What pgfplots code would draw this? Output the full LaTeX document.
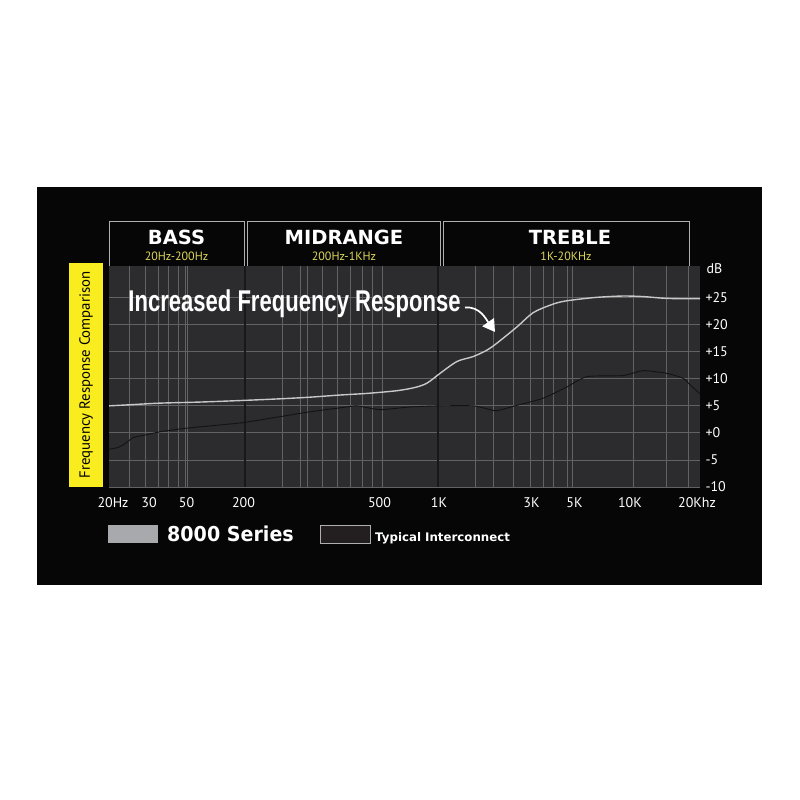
\documentclass[border=0pt]{standalone}
\usepackage{pgfplots}
\pgfplotsset{compat=1.18}
\usepackage{fontspec}
\setmainfont{Liberation Sans}
\newfontfamily\ptsans{PT Sans}
\newfontfamily\heavy{DejaVu Sans}
\usetikzlibrary{arrows.meta}

\definecolor{outerbg}{RGB}{6,6,6}
\definecolor{plotbg}{RGB}{44,43,45}
\definecolor{gridlight}{RGB}{98,98,98}
\definecolor{griddark}{RGB}{24,24,24}
\definecolor{seriesA}{RGB}{200,200,200}
\definecolor{seriesB}{RGB}{20,19,20}
\definecolor{bandyellow}{RGB}{249,236,31}
\definecolor{subyellow}{RGB}{222,214,92}
\definecolor{boxline}{RGB}{175,175,175}
\definecolor{swatchA}{RGB}{167,169,172}
\definecolor{swatchB}{RGB}{35,31,32}

% x is the position across the chart (the frequency scale is not regular)
\pgfplotstableread{
x     db
109   5.0
130   5.2
160   5.5
200   5.7
243   6.0
280   6.3
310   6.6
340   7.0
367   7.3
397   7.8
415   8.4
427   9.2
440   11.0
457   13.2
473   14.1
487   15.3
497   16.6
517   19.6
533   22.2
550   23.6
563   24.3
583   24.8
600   25.1
623   25.3
643   25.2
663   24.9
680   24.8
700   24.8
}\seriesEight

\pgfplotstableread{
x     db
109   -3.0
118   -2.7
125   -2.0
133   -0.9
145   -0.4
160   0.2
183   0.8
210   1.3
243   1.9
280   3.0
310   3.9
347   4.8
357   5.0
380   4.3
410   4.8
440   5.0
473   5.0
490   4.3
497   4.1
517   5.1
543   6.4
567   8.5
587   10.4
623   10.6
643   11.5
667   11.0
683   10.1
690   8.9
700   7.2
}\seriesTypical

\begin{document}
\begin{tikzpicture}[x=1pt,y=1pt]
  % page and dark panel
  \fill[white] (0,0) rectangle (800,800);
  \fill[outerbg] (37,215) rectangle (762,613);

  % yellow side band
  \fill[bandyellow] (69,313) rectangle (103,537);
  \node[rotate=90, black, font=\ptsans\fontsize{14.8}{15}\selectfont] at (86,425) {Frequency Response Comparison};

  % range boxes
  \draw[boxline, line width=1pt] (109,534) -- (109,578) -- (244,578) -- (244,534);
  \draw[boxline, line width=1pt] (247,534) -- (247,578) -- (440,578) -- (440,534);
  \draw[boxline, line width=1pt] (443,534) -- (443,578) -- (689,578) -- (689,534);
  \node[white, font=\heavy\bfseries\fontsize{19.5}{20}\selectfont] at (176.5,563) {BASS};
  \node[white, font=\heavy\bfseries\fontsize{19.5}{20}\selectfont] at (344,563) {MIDRANGE};
  \node[white, font=\heavy\bfseries\fontsize{19.5}{20}\selectfont] at (570,563) {TREBLE};
  \node[subyellow, font=\ptsans\fontsize{12}{12}\selectfont] at (176.5,544) {20Hz-200Hz};
  \node[subyellow, font=\ptsans\fontsize{12}{12}\selectfont] at (344,544) {200Hz-1KHz};
  \node[subyellow, font=\ptsans\fontsize{12}{12}\selectfont] at (566,544) {1K-20KHz};

  \begin{axis}[
    at={(109pt,313pt)}, anchor=south west,
    width=591pt, height=221pt, scale only axis,
    xmin=109, xmax=700, ymin=-10, ymax=30.85,
    axis background/.style={fill=plotbg},
    axis line style={draw=none},
    tick style={draw=none},
    major tick length=0pt, minor tick length=0pt,
    xtick={113,149,186.5,243.5,379.5,439,531.5,574.5,630,697},
    xticklabels={20Hz,30,50,200,500,1K,3K,5K,10K,20Khz},
    minor xtick={129,145,158,168,178,185,187,282,300,307,322,337,350,362,372,382,475,493,513,530,543,553,567,572,633,666,688},
    xminorgrids,
    minor x grid style={gridlight, line width=0.7pt},
    ytick={-10,-5,0,5,10,15,20,25},
    yticklabels={-10,-5,+0,+5,+10,+15,+20,+25},
    ymajorgrids,
    major grid style={gridlight, line width=0.8pt},
    yticklabel pos=right,
    xticklabel style={white, font=\ptsans\fontsize{14}{14}\selectfont, anchor=base, yshift=-20.5pt},
    yticklabel style={white, font=\ptsans\fontsize{14}{14}\selectfont, anchor=west, xshift=2pt},
  ]
    \draw[griddark, line width=1.2pt] (axis cs:245,-10) -- (axis cs:245,30.85);
    \draw[griddark, line width=1.2pt] (axis cs:438,-10) -- (axis cs:438,30.85);

    \addplot[seriesB, line width=0.9pt, smooth, tension=0.4] table[x=x, y=db] {\seriesTypical};
    \addplot[seriesA, line width=1.4pt, smooth, tension=0.5] table[x=x, y=db] {\seriesEight};
  \end{axis}

  % dB unit label
  \node[white, font=\ptsans\fontsize{14}{14}\selectfont, anchor=west] at (703,531) {dB};

  % callout
  \node[white, font=\bfseries\fontsize{30}{30}\selectfont] at (294.5,496.5) {\scalebox{0.735}[1]{Increased Frequency Response}};
  \draw[white, line width=1.7pt, -{Triangle[length=12pt, width=14pt]}] (465,492.5) to[out=5, in=125] (495,468);

  % legend
  \fill[swatchA] (108,257) rectangle (158,275);
  \node[white, font=\heavy\bfseries\fontsize{20.5}{21}\selectfont, anchor=west, inner sep=0pt] at (167,266) {\scalebox{0.93}[1]{8000 Series}};
  \filldraw[fill=swatchB, draw=boxline, line width=0.8pt] (320,257) rectangle (370,275);
  \node[white, font=\heavy\bfseries\fontsize{11.8}{12}\selectfont, anchor=west, inner sep=0pt] at (375,261.5) {Typical Interconnect};

  \pgfresetboundingbox
  \useasboundingbox (0,0) rectangle (800,800);
\end{tikzpicture}
\end{document}
